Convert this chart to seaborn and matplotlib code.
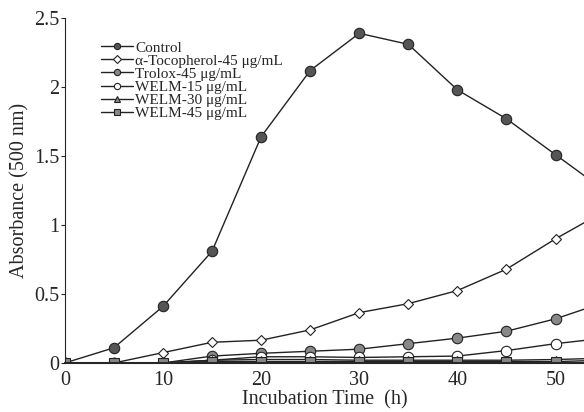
import matplotlib
matplotlib.use("Agg")
import matplotlib.pyplot as plt
import seaborn as sns
import pandas as pd
from matplotlib.lines import Line2D

# incubation times (h) and absorbance at 500 nm
hours = [0, 5, 10, 15, 20, 25, 30, 35, 40, 45, 50, 55]
control = [0, 0.11, 0.41, 0.81, 1.64, 2.12, 2.39, 2.31, 1.98, 1.77, 1.51, 1.25]
tocopherol = [0, 0.0, 0.075, 0.15, 0.165, 0.24, 0.365, 0.43, 0.525, 0.68, 0.90, 1.1]
trolox = [0, 0, 0.0, 0.05, 0.07, 0.085, 0.10, 0.14, 0.18, 0.23, 0.32, 0.44]
welm15 = [0, 0, 0, 0.02, 0.045, 0.045, 0.04, 0.045, 0.05, 0.09, 0.14, 0.18]
welm30 = [0, 0, 0, 0.02, 0.025, 0.025, 0.02, 0.02, 0.02, 0.02, 0.025, 0.035]
welm45 = [0, 0, 0, 0.01, 0.01, 0.01, 0.01, 0.01, 0.01, 0.01, 0.01, 0.02]

labels = ["Control", "\u03b1-Tocopherol-45 \u03bcg/mL", "Trolox-45 \u03bcg/mL",
          "WELM-15 \u03bcg/mL", "WELM-30 \u03bcg/mL", "WELM-45 \u03bcg/mL"]
series = [control, tocopherol, trolox, welm15, welm30, welm45]
markers = ["o", "D", "o", "o", "^", "s"]
faces = ["#555555", "white", "#888888", "white", "#888888", "#888888"]
msizes = [7.5, 5.5, 7.5, 7.5, 6, 7.5]

sns.set_style("ticks")
plt.rcParams["font.family"] = ["Liberation Serif", "DejaVu Serif"]

fig = plt.figure(figsize=(5.84, 4.12), dpi=100)
ax = fig.add_axes([0.111, 0.119, 0.889, 0.837])

for lab, vals, m, fc, ms in zip(labels, series, markers, faces, msizes):
    df = pd.DataFrame({"t": hours, "a": vals})
    sns.lineplot(data=df, x="t", y="a", ax=ax, color="#222222", lw=1.0,
                 marker=m, markersize=ms,
                 markerfacecolor=fc, markeredgecolor="#222222",
                 markeredgewidth=0.8, legend=False)

ax.set_xlim(0, 52.9)
ax.set_ylim(0, 2.5)
ax.set_xticks([0, 10, 20, 30, 40, 50])
ax.set_yticks([0, 0.5, 1, 1.5, 2, 2.5])
ax.set_yticklabels(["0", "0.5", "1", "1.5", "2", "2.5"])
ax.tick_params(axis="x", length=0, labelsize=14.5, pad=6)
ax.tick_params(axis="y", length=3, labelsize=14.5, pad=1)
for s in ["top", "right"]:
    ax.spines[s].set_visible(False)
ax.spines["left"].set_linewidth(0.8)
ax.spines["bottom"].set_linewidth(1.5)
ax.set_xlabel("Incubation Time  (h)", fontsize=14.5, labelpad=0)
ax.set_ylabel("Absorbance (500 nm)", fontsize=14.5, labelpad=3)

handles = [Line2D([], [], color="#222222", lw=1.0, marker=m,
                  markersize=4.5 if m != "D" else 3.8,
                  markerfacecolor=fc, markeredgecolor="#222222", markeredgewidth=0.8)
           for m, fc in zip(markers, faces)]
ax.legend(handles, labels, loc="upper left", bbox_to_anchor=(0.055, 0.956),
          frameon=False, fontsize=11, handlelength=2.1, handletextpad=0.15,
          labelspacing=-0.04, borderpad=0)

fig.savefig("out.png", dpi=100)
